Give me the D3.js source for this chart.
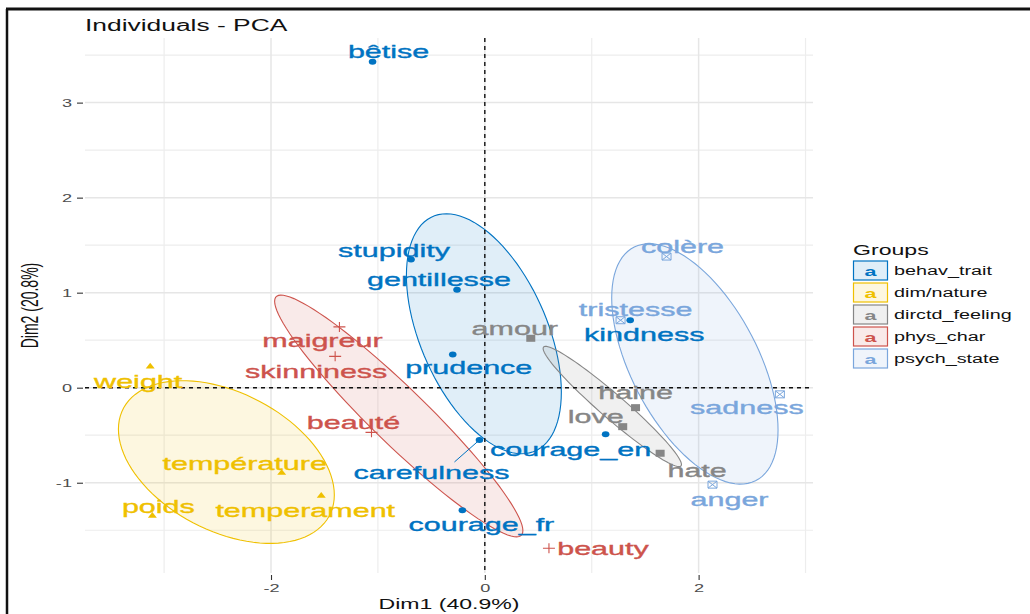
<!DOCTYPE html>
<html>
<head>
<meta charset="utf-8">
<script src="https://cdn.jsdelivr.net/npm/d3@7"></script>
<style>
  body { margin: 0; background: #fff; }
  text { font-family: "Liberation Sans", Arial, sans-serif; }
</style>
</head>
<body>
<div id="chart"></div>
<script>
// individuals (PCA coordinates)
var names = ["bêtise", "stupidity", "gentillesse", "prudence", "courage_en", "carefulness", "courage_fr", "kindness",
             "weight", "température", "temperament", "poids",
             "amour", "haine", "love", "hate",
             "maigreur", "skinniness", "beauté", "beauty",
             "colère", "tristesse", "sadness", "anger"];
var groupOf = ["behav_trait", "behav_trait", "behav_trait", "behav_trait", "behav_trait", "behav_trait", "behav_trait", "behav_trait",
               "dim/nature", "dim/nature", "dim/nature", "dim/nature",
               "dirctd_feeling", "dirctd_feeling", "dirctd_feeling", "dirctd_feeling",
               "phys_char", "phys_char", "phys_char", "phys_char",
               "psych_state", "psych_state", "psych_state", "psych_state"];
var dim1 = [-1.05, -0.69, -0.26, -0.30, 1.13, -0.05, -0.21, 1.36,
            -3.13, -1.90, -1.53, -3.11,
            0.43, 1.41, 1.29, 1.64,
            -1.36, -1.40, -1.06, 0.60,
            1.70, 1.27, 2.76, 2.13];
var dim2 = [3.43, 1.35, 1.03, 0.35, -0.49, -0.55, -1.29, 0.71,
            0.23, -0.89, -1.13, -1.34,
            0.52, -0.21, -0.41, -0.69,
            0.64, 0.33, -0.47, -1.69,
            1.38, 0.71, -0.07, -1.02];

var groups = ["behav_trait", "dim/nature", "dirctd_feeling", "phys_char", "psych_state"];
var xTicks = [-2, 0, 2];
var yTicks = [-1, 0, 1, 2, 3];
var xLabel = "Dim1 (40.9%)", yLabel = "Dim2 (20.8%)";
var title = "Individuals - PCA";

// look
var colors = ["#0073C2", "#EFC000", "#868686", "#CD534C", "#7AA6DC"];
var SX = 1.65; // the picture is stretched horizontally
var color = d3.scaleOrdinal().domain(groups).range(colors);
var shapeOf = d3.scaleOrdinal().domain(groups).range(["circle", "triangle", "square", "plus", "boxx"]);

// repelled label offsets (px, label centre relative to point)
var labelNudge = {
  "bêtise": [16, -10], "stupidity": [-17, -9], "gentillesse": [-18, -10], "prudence": [16, 13],
  "courage_en": [-35, 15], "carefulness": [-48, 32], "courage_fr": [19, 14], "kindness": [14, 14],
  "weight": [-12, 15], "température": [-37, -9], "temperament": [-16, 15], "poids": [6, -9],
  "amour": [-16, -10], "haine": [0, -15], "love": [-27, -10], "hate": [37, 17],
  "maigreur": [-17, 13], "skinniness": [-19, 15], "beauté": [-18, -10], "beauty": [54, 0],
  "colère": [16, -10], "tristesse": [15, -11], "sadness": [-33, 13], "anger": [17, 15]
};

var W = 1030, H = 614;
var panel = {left: 85, right: 813, top: 38, bottom: 573};

var svg = d3.select("#chart").append("svg")
    .attr("width", W)
    .attr("height", H);

// frame around the image
svg.append("line").attr("x1", 7).attr("x2", 7).attr("y1", 9).attr("y2", H)
    .attr("stroke", "#111").attr("stroke-width", 2.5);
svg.append("line").attr("x1", 6).attr("x2", W).attr("y1", 9).attr("y2", 9)
    .attr("stroke", "#111").attr("stroke-width", 3);

var x = d3.scaleLinear().domain([-3.74, 3.07]).range([panel.left, panel.right]);
var y = d3.scaleLinear().domain([-1.95, 3.68]).range([panel.bottom, panel.top]);

function stretch(sel, px, py) {
  sel.attr("transform", "translate(" + px + "," + py + ") scale(" + SX + ",1)");
}

// grid
var grid = svg.append("g");
var xMinor = [-3, -1, 1, 3], yMinor = [-1.5, -0.5, 0.5, 1.5, 2.5, 3.5];
grid.selectAll(".vminor").data(xMinor).enter().append("line")
    .attr("x1", d => x(d)).attr("x2", d => x(d))
    .attr("y1", panel.top).attr("y2", panel.bottom)
    .attr("stroke", "#EDEDED").attr("stroke-width", 1.2);
grid.selectAll(".hminor").data(yMinor).enter().append("line")
    .attr("y1", d => y(d)).attr("y2", d => y(d))
    .attr("x1", panel.left).attr("x2", panel.right)
    .attr("stroke", "#EDEDED").attr("stroke-width", 1.2);
grid.selectAll(".vmajor").data(xTicks).enter().append("line")
    .attr("x1", d => x(d)).attr("x2", d => x(d))
    .attr("y1", panel.top).attr("y2", panel.bottom)
    .attr("stroke", "#E6E6E6").attr("stroke-width", 1.5);
grid.selectAll(".hmajor").data(yTicks).enter().append("line")
    .attr("y1", d => y(d)).attr("y2", d => y(d))
    .attr("x1", panel.left).attr("x2", panel.right)
    .attr("stroke", "#E6E6E6").attr("stroke-width", 1.5);

// axes
var xAxis = svg.append("g")
    .attr("transform", "translate(0," + (panel.bottom + 2) + ")")
    .call(d3.axisBottom(x).tickValues(xTicks).tickSize(5).tickFormat(d3.format("d")));
var yAxis = svg.append("g")
    .attr("transform", "translate(" + (panel.left - 2) + ",0)")
    .call(d3.axisLeft(y).tickValues(yTicks).tickSize(6).tickFormat(d3.format("d")));
[xAxis, yAxis].forEach(function(a) {
  a.select(".domain").remove();
  a.selectAll(".tick line").attr("stroke", "#333").attr("stroke-width", 1.1);
  a.selectAll(".tick text").attr("fill", "#4D4D4D").style("font-size", "11px")
      .style("font-family", '"Liberation Sans", Arial, sans-serif');
});
xAxis.selectAll(".tick text").attr("y", 0).attr("dy", "0.71em")
    .attr("transform", "translate(0,9) scale(" + SX + ",1)")
    .text(d => d3.format("d")(d).replace("−", "-"));
yAxis.selectAll(".tick text").attr("x", 0).attr("dy", "0.35em")
    .attr("transform", "translate(-11,0) scale(" + SX + ",1)")
    .text(d => d3.format("d")(d).replace("−", "-"));

// ellipses: 95% confidence ellipse around each group mean
var ellG = svg.append("g");
groups.forEach(function(g) {
  var idx = d3.range(names.length).filter(i => groupOf[i] === g);
  var n = idx.length;
  var mx = d3.mean(idx, i => dim1[i]), my = d3.mean(idx, i => dim2[i]);
  var sxx = d3.sum(idx, i => (dim1[i] - mx) * (dim1[i] - mx)) / (n - 1);
  var syy = d3.sum(idx, i => (dim2[i] - my) * (dim2[i] - my)) / (n - 1);
  var sxy = d3.sum(idx, i => (dim1[i] - mx) * (dim2[i] - my)) / (n - 1);
  var k = 5.991 / n;
  var a = sxx * k, b = sxy * k, c = syy * k;
  var l11 = Math.sqrt(a), l21 = b / l11, l22 = Math.sqrt(c - l21 * l21);
  var pts = d3.range(0, 101).map(function(j) {
    var t = j / 100 * 2 * Math.PI;
    return [x(mx + l11 * Math.cos(t)), y(my + l21 * Math.cos(t) + l22 * Math.sin(t))];
  });
  ellG.append("path")
      .attr("d", d3.line()(pts) + "Z")
      .attr("fill", color(g)).attr("fill-opacity", 0.12)
      .attr("stroke", color(g)).attr("stroke-width", 1.1);
});

// reference lines
svg.append("line").attr("x1", x(0)).attr("x2", x(0)).attr("y1", panel.top).attr("y2", panel.bottom)
    .attr("stroke", "#111").attr("stroke-width", 1.4).attr("stroke-dasharray", "4,4");
svg.append("line").attr("y1", y(0)).attr("y2", y(0)).attr("x1", panel.left).attr("x2", panel.right)
    .attr("stroke", "#111").attr("stroke-width", 1.4).attr("stroke-dasharray", "4,4");

// points
function drawShape(sel, shape, col) {
  if (shape === "circle") {
    sel.append("ellipse").attr("rx", 3.8).attr("ry", 3).attr("fill", col);
  } else if (shape === "triangle") {
    sel.append("path").attr("d", "M-4.5,2.6L4.5,2.6L0,-3Z").attr("fill", col);
  } else if (shape === "square") {
    sel.append("rect").attr("x", -4.5).attr("y", -3.5).attr("width", 9).attr("height", 7).attr("fill", col);
  } else if (shape === "plus") {
    sel.append("path").attr("d", "M-6,0H6M0,-5V5").attr("stroke", col).attr("stroke-width", 1.1).attr("fill", "none");
  } else {
    sel.append("path").attr("d", "M-4.5,-3.5H4.5V3.5H-4.5ZM-4.5,-3.5L4.5,3.5M4.5,-3.5L-4.5,3.5")
        .attr("stroke", col).attr("stroke-width", 1).attr("fill", "none");
  }
}
var ptG = svg.append("g");
names.forEach(function(nm, i) {
  var g = ptG.append("g").attr("transform", "translate(" + x(dim1[i]) + "," + y(dim2[i]) + ")");
  drawShape(g, shapeOf(groupOf[i]), color(groupOf[i]));
});

// labels
var labG = svg.append("g");
names.forEach(function(nm, i) {
  var px = x(dim1[i]), py = y(dim2[i]);
  var nd = labelNudge[nm] || [0, -12];
  var lx = px + nd[0], ly = py + nd[1];
  if (nm === "carefulness") {
    labG.append("line").attr("x1", px).attr("y1", py).attr("x2", lx + 23).attr("y2", ly - 10)
        .attr("stroke", color(groupOf[i])).attr("stroke-width", 1);
  }
  labG.append("text").text(nm)
      .attr("text-anchor", "middle").attr("dy", "0.36em")
      .attr("fill", color(groupOf[i]))
      .attr("stroke", color(groupOf[i])).attr("stroke-width", 0.35)
      .style("font-size", "18.5px")
      .call(stretch, lx, ly);
});

// title and axis titles
svg.append("text").text(title).attr("fill", "#111").style("font-size", "16px")
    .call(stretch, panel.left, 31);
svg.append("text").text(xLabel).attr("text-anchor", "middle").attr("fill", "#111").style("font-size", "14px")
    .call(stretch, (panel.left + panel.right) / 2, 609);
svg.append("text").text(yLabel).attr("text-anchor", "middle").attr("fill", "#111").style("font-size", "14px")
    .attr("transform", "translate(38," + ((panel.top + panel.bottom) / 2) + ") scale(" + SX + ",1) rotate(-90)");

// legend
var leg = svg.append("g").attr("transform", "translate(853,0)");
leg.append("text").text("Groups").attr("fill", "#111").style("font-size", "14px")
    .call(stretch, 0, 255);
groups.forEach(function(g, i) {
  var ry = 261 + i * 22;
  leg.append("rect").attr("x", 0.5).attr("y", ry).attr("width", 34).attr("height", 19)
      .attr("fill", color(g)).attr("fill-opacity", 0.12)
      .attr("stroke", color(g)).attr("stroke-width", 1.2);
  leg.append("text").text("a").attr("text-anchor", "middle").attr("fill", color(g))
      .style("font-size", "13px").style("font-weight", "bold")
      .call(stretch, 17.5, ry + 15);
  leg.append("text").text(g).attr("fill", "#111").style("font-size", "12px")
      .call(stretch, 41, ry + 14);
});
</script>
</body>
</html>
